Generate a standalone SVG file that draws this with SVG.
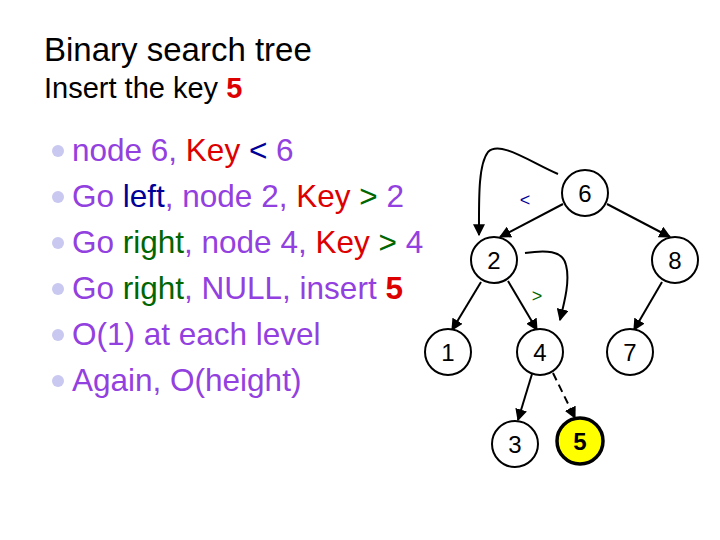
<svg xmlns="http://www.w3.org/2000/svg" width="720" height="540" viewBox="0 0 720 540">
<style>
text{font-family:"Liberation Sans",Arial,sans-serif}
.b{font-size:31.5px;fill:#9340E0}
.r{fill:#DD0000}.bl{fill:#000099}.g{fill:#006600}
.dot{fill:#C8C8F0}
.n circle{fill:#fff;stroke:#000;stroke-width:2}
.n text{font-size:24px;text-anchor:middle;fill:#000}
.e{stroke:#000;stroke-width:2;fill:none;marker-end:url(#a)}
</style>
<defs><marker id="a" viewBox="0 0 10 10" refX="9" refY="5" markerWidth="6" markerHeight="6" orient="auto"><path d="M0,0L10,5L0,10z"/></marker></defs>
<rect width="720" height="540" fill="#fff"/>
<text x="44" y="61" font-size="33">Binary search tree</text>
<text x="44" y="98" font-size="29">Insert the key <tspan class="r" font-weight="bold">5</tspan></text>
<g class="b">
<circle class="dot" cx="58" cy="151" r="6"/><text x="72" y="161">node 6, <tspan class="r">Key</tspan> <tspan class="bl">&lt;</tspan> 6</text>
<circle class="dot" cx="58" cy="197" r="6"/><text x="72" y="207">Go <tspan class="bl">left</tspan>, node 2, <tspan class="r">Key</tspan> <tspan class="g">&gt;</tspan> 2</text>
<circle class="dot" cx="58" cy="243" r="6"/><text x="72" y="253">Go <tspan class="g">right</tspan>, node 4, <tspan class="r">Key</tspan> <tspan class="g">&gt;</tspan> 4</text>
<circle class="dot" cx="58" cy="289" r="6"/><text x="72" y="299">Go <tspan class="g">right</tspan>, NULL, insert <tspan class="r" font-weight="bold">5</tspan></text>
<circle class="dot" cx="58" cy="335" r="6"/><text x="72" y="345">O(1) at each level</text>
<circle class="dot" cx="58" cy="381" r="6"/><text x="72" y="391">Again, O(height)</text>
</g>
<g id="connectors">
<path class="e" d="M563,204L500,237"/>
<path class="e" d="M607,204L670,237"/>
<path class="e" d="M481,282L452,330"/>
<path class="e" d="M508,281L537,330"/>
<path class="e" d="M662,282L634,330"/>
<path class="e" d="M532,374L518,420"/>
<path class="e" d="M553,373L575,418" stroke-dasharray="8,5" stroke-width="3"/>
<path class="e" d="M558,174C530,162 500,140 488,152C478,165 479,200 479,235"/>
<path class="e" d="M525,253C545,250 563,250 566,265C570,280 565,300 560,320"/>
<text x="525" y="206" font-size="18" fill="#000099" text-anchor="middle">&lt;</text>
<text x="537" y="302" font-size="18" fill="#006600" text-anchor="middle">&gt;</text>
</g>
<g id="n6" class="n"><circle cx="585" cy="193" r="23"/><text x="585" y="202">6</text></g>
<g id="n2" class="n"><circle cx="494" cy="260" r="23"/><text x="494" y="269">2</text></g>
<g id="n8" class="n"><circle cx="675" cy="260" r="23"/><text x="675" y="269">8</text></g>
<g id="n1" class="n"><circle cx="448" cy="352" r="23"/><text x="448" y="361">1</text></g>
<g id="n4" class="n"><circle cx="540" cy="352" r="23"/><text x="540" y="361">4</text></g>
<g id="n7" class="n"><circle cx="630" cy="352" r="23"/><text x="630" y="361">7</text></g>
<g id="n3" class="n"><circle cx="515" cy="444" r="23"/><text x="515" y="453">3</text></g>
<g id="n5" class="n"><circle cx="580" cy="441" r="23" style="fill:#FFFF00;stroke-width:3.5"/><text x="580" y="450" font-weight="bold">5</text></g>
</svg>
